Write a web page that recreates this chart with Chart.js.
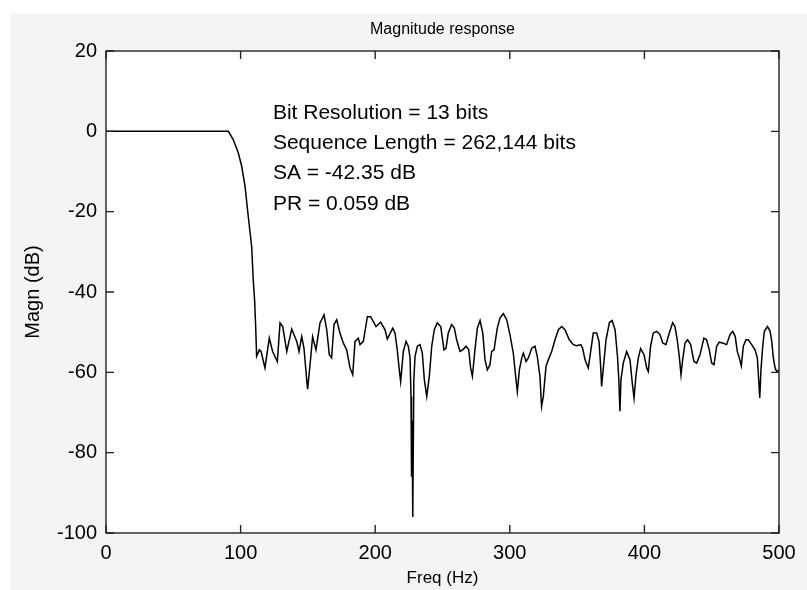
<!DOCTYPE html>
<html>

<head>
    <script src="https://cdn.jsdelivr.net/npm/chart.js@4.4.2/dist/chart.umd.min.js"></script>
    <style>
        body { margin: 0; background: #fff; }
    </style>
</head>

<body>
    <canvas id="chart" width="807" height="590"></canvas>
</body>
<script>
    // frequency (Hz) and magnitude (dB)
    const freqs = [
        0, 90.9, 94.6, 98.3, 100.8, 103.3, 105.7, 108.2, 109.4, 110.4, 111.2, 111.9,
        113.9, 115.2, 118.1, 121.3, 123.8, 127.3, 129.3, 131.3, 134.3, 138, 141.7, 143.4,
        145.4, 147.1, 149.1, 149.8, 152.3, 153.5, 156, 159, 162, 164, 165.9, 167.6,
        169.4, 171.4, 173.8, 176.3, 178.8, 181.3, 183.3, 185, 187.5, 188.7, 191.2, 194.2,
        196.7, 200.6, 204.1, 207.3, 209, 213, 214.7, 216.4, 217.9, 218.9, 220.9, 222.9,
        224.6, 225.9, 226.6, 227.0, 227.4, 227.9, 228.7, 229.6, 231.3, 233.3, 235, 236.5,
        238.3, 240.2, 242, 243.9, 246.1, 248.7, 251.1, 252.6, 254.3, 256.8, 258.8, 260.5,
        263, 265, 267.5, 269.5, 270.9, 272.2, 274.1, 275.9, 277.9, 279.9, 281.6, 283.3,
        285.3, 286.5, 288.3, 290.7, 292.7, 295.2, 297.7, 300.1, 302.6, 304.6, 305.6, 307.1,
        308.9, 310.1, 312.1, 313.8, 316.3, 318.7, 320.4, 322.4, 323.6, 324.9, 326.9, 328.6,
        331.1, 333.6, 336.1, 338.6, 341, 344.2, 347.2, 349.7, 352.7, 354.1, 355.9, 358.3,
        360.1, 362, 364.5, 366.3, 367.5, 368.2, 369.5, 371.5, 374, 376, 378.2, 380,
        381, 381.8, 382.6, 384.3, 386.8, 389.3, 391, 392.3, 393.8, 395.5, 397.2, 399.7,
        401.7, 402.9, 404.6, 406.6, 409.1, 411.6, 413.6, 416, 418.5, 421, 422.7, 424.4,
        425.9, 427.2, 428.4, 430.2, 432.1, 434.4, 436.8, 438.8, 441.3, 444.2, 446.2, 448.2,
        450, 451.7, 453.7, 455.6, 458.2, 461.1, 463.6, 465.6, 467.5, 469, 470.5, 472,
        473.5, 475.5, 477.2, 479.7, 482.2, 483.9, 484.9, 485.7, 486.6, 487.9, 489.1, 491.4,
        493.4, 494.6, 495.8, 497.1, 498.3, 500
    ];
    const magn = [
        0, 0, -2.1, -5.4, -8.7, -13.7, -21.2, -28.6, -37, -42, -48.6, -56,
        -54.4, -54.8, -58.9, -51.5, -54.8, -57.3, -47.7, -48.6, -54.8, -49.2, -52.3, -54.8,
        -51.1, -54, -61.8, -64.2, -55.6, -51.1, -54.4, -47.7, -45.7, -49.4, -55.6, -56.4,
        -48.1, -46.9, -50.2, -52.7, -54.4, -58.9, -60.6, -52.3, -51.5, -53.1, -52.3, -46.1,
        -46.2, -48.6, -47.5, -49.4, -51.7, -49, -50.2, -54.4, -59.4, -62.3, -54.8, -52.3,
        -53.5, -56.4, -66, -86, -72, -96, -62, -56, -53.5, -53.1, -55.2, -61.8,
        -66, -61, -53.5, -49.4, -47.7, -48.6, -54.4, -54, -50.2, -48.1, -49, -51.9,
        -54.8, -54.4, -53.5, -54.4, -58.9, -61, -54.4, -49, -47.1, -50.2, -56.9, -59.4,
        -58.1, -54.8, -54.4, -49, -46.5, -45.4, -46.9, -50.6, -55.2, -61.8, -64.8, -59.4,
        -56.4, -55.2, -57.3, -56.4, -54, -53.5, -56, -61, -68.5, -66, -58.5, -56.9,
        -54.8, -51.9, -49.4, -48.6, -49.4, -51.9, -53.1, -53.4, -53.1, -54, -56.9, -58.9,
        -54.8, -50.2, -50.2, -52.3, -58.5, -63.5, -58.9, -51.9, -47.6, -47.1, -49.4, -56,
        -61.8, -69.7, -61.8, -57.7, -54.8, -56.9, -62.7, -66.4, -60.6, -56.4, -54.1, -55.6,
        -58.9, -59.8, -53.5, -50.2, -49.8, -50.6, -52.7, -53.1, -50.2, -47.6, -48.6, -51.9,
        -56, -60.6, -56.9, -52.7, -51.9, -53.1, -57.3, -57.7, -55.6, -51.5, -51.9, -54.4,
        -57.7, -58.1, -53.5, -52.5, -52.7, -53.1, -50.6, -49.8, -51.1, -54.8, -56.4, -58.4,
        -53.5, -51.9, -51.9, -53.1, -54.4, -56.4, -61.8, -66.4, -59.4, -53.5, -49.8, -48.6,
        -49.8, -52.3, -56.4, -58.9, -59.8, -59.4
    ];
    const xTicks = [0, 100, 200, 300, 400, 500];
    const yTicks = [20, 0, -20, -40, -60, -80, -100];
    const titleText = 'Magnitude response';
    const noteLines = [
        'Bit Resolution = 13 bits',
        'Sequence Length = 262,144 bits',
        'SA = -42.35 dB',
        'PR = 0.059 dB'
    ];
    const noteAt = { x: 124, y: 4.6 }; // data coords of first text line

    const font = 'Liberation Sans, Arial, sans-serif';

    const framePlugin = {
        id: 'frame',
        beforeDraw(chart) {
            const { ctx, chartArea: a } = chart;
            ctx.save();
            ctx.fillStyle = '#ffffff';
            ctx.fillRect(0, 0, chart.width, chart.height);
            ctx.fillStyle = '#f4f4f4';
            ctx.fillRect(10, 14, chart.width - 10, chart.height - 14);
            ctx.fillStyle = '#ffffff';
            ctx.fillRect(a.left, a.top, a.right - a.left, a.bottom - a.top);
            ctx.restore();
        },
        afterDraw(chart) {
            const { ctx, chartArea: a } = chart;
            const xs = chart.scales.x, ys = chart.scales.y;
            ctx.save();
            ctx.strokeStyle = '#222';
            ctx.lineWidth = 1.4;
            ctx.strokeRect(a.left, a.top, a.right - a.left, a.bottom - a.top);
            ctx.beginPath();
            for (const v of xTicks) {
                const px = xs.getPixelForValue(v);
                ctx.moveTo(px, a.bottom); ctx.lineTo(px, a.bottom - 8);
                ctx.moveTo(px, a.top); ctx.lineTo(px, a.top + 8);
            }
            for (const v of yTicks) {
                const py = ys.getPixelForValue(v);
                ctx.moveTo(a.left, py); ctx.lineTo(a.left + 8, py);
                ctx.moveTo(a.right, py); ctx.lineTo(a.right - 8, py);
            }
            ctx.stroke();

            ctx.fillStyle = '#000';
            ctx.textBaseline = 'middle';

            // title, centred over the axes
            ctx.font = '16px ' + font;
            ctx.textAlign = 'center';
            ctx.fillText(titleText, (a.left + a.right) / 2, a.top - 21);

            // text annotation
            ctx.font = '21px ' + font;
            ctx.textAlign = 'left';
            const tx = xs.getPixelForValue(noteAt.x);
            const ty = ys.getPixelForValue(noteAt.y);
            noteLines.forEach((s, i) => ctx.fillText(s, tx, ty + i * 30.4));
            ctx.restore();
        }
    };

    const canvas = document.getElementById('chart');

    const config = {
        type: 'line',
        data: {
            datasets: [{
                data: freqs.map((f, i) => ({ x: f, y: magn[i] })),
                borderColor: '#000',
                borderWidth: 1.5,
                pointRadius: 0,
                tension: 0
            }]
        },
        options: {
            responsive: false,
            animation: false,
            layout: { padding: { left: 0, right: 28, top: 51, bottom: 0 } },
            plugins: {
                legend: { display: false },
                tooltip: { enabled: false },
                title: { display: false }
            },
            scales: {
                x: {
                    type: 'linear',
                    min: 0,
                    max: 500,
                    afterBuildTicks: (s) => { s.ticks = xTicks.map(v => ({ value: v })); },
                    afterFit: (s) => { s.height = 57; },
                    grid: { display: false, tickLength: 0 },
                    border: { display: false },
                    ticks: { color: '#000', font: { family: font, size: 20 }, padding: 8, maxRotation: 0 },
                    title: {
                        display: true, text: 'Freq (Hz)', color: '#000',
                        font: { family: font, size: 17 }, padding: { top: 0, bottom: 1 }
                    }
                },
                y: {
                    min: -100,
                    max: 20,
                    afterBuildTicks: (s) => { s.ticks = yTicks.map(v => ({ value: v })); },
                    afterFit: (s) => { s.width = 106; },
                    grid: { display: false, tickLength: 0 },
                    border: { display: false },
                    ticks: { color: '#000', font: { family: font, size: 20 }, padding: 9 },
                    title: {
                        display: true, text: 'Magn (dB)', color: '#000',
                        font: { family: font, size: 20 }, padding: { top: 21, bottom: 0 }
                    }
                }
            }
        },
        plugins: [framePlugin]
    };

    const chart = new Chart(canvas, config);
</script>

</html>
